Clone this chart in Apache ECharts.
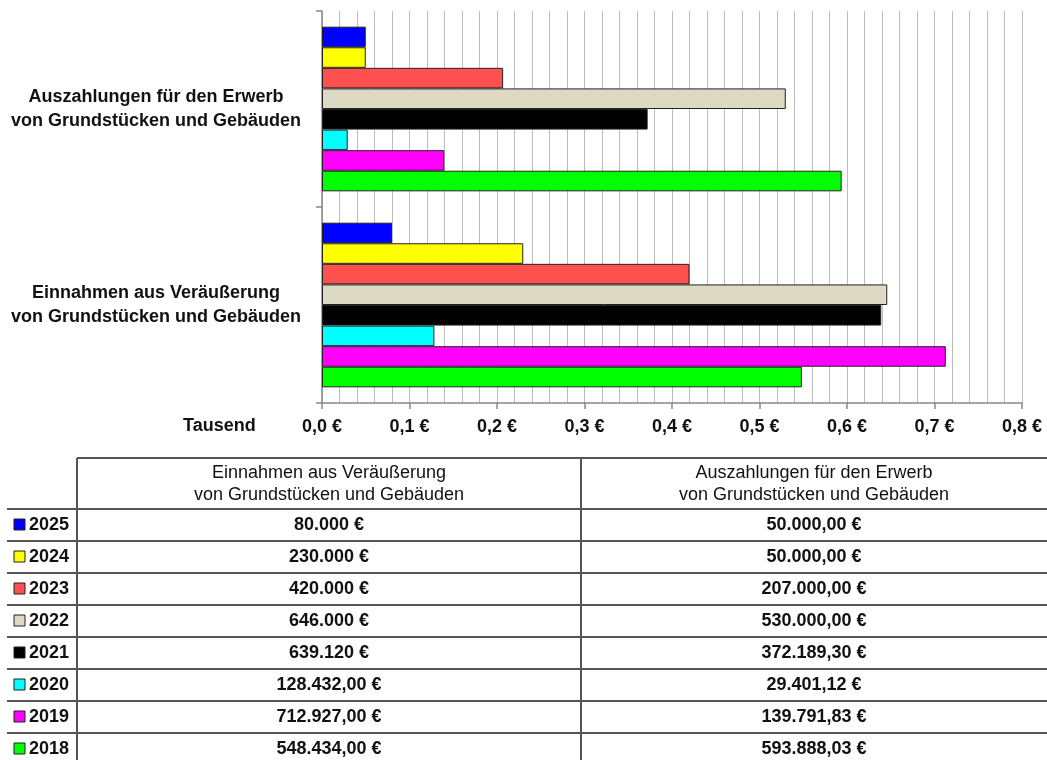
<!DOCTYPE html>
<html>
<head>
<meta charset="utf-8" />
<script src="https://cdn.jsdelivr.net/npm/echarts@6/dist/echarts.min.js"></script>
<style>
  html, body { margin: 0; padding: 0; background: #fff; }
  #chart { width: 1047px; height: 760px; }
</style>
</head>
<body>
<div id="chart"></div>
<script>
const FONT = "'Liberation Sans Narrow', 'Arial Narrow', 'Liberation Sans', Arial, sans-serif";

// categories (bottom to top on the y axis)
const categories = [
  'Einnahmen aus Veräußerung\nvon Grundstücken und Gebäuden',
  'Auszahlungen für den Erwerb\nvon Grundstücken und Gebäuden'
];

// years as they are listed in the table (top to bottom)
const years = ['2025', '2024', '2023', '2022', '2021', '2020', '2019', '2018'];
const colors = ['#0000ff', '#ffff00', '#ff5050', '#ddd9c3', '#000000', '#00ffff', '#ff00ff', '#00ff00'];

// values in euro, same order as years
const einnahmen = [80000, 230000, 420000, 646000, 639120, 128432.00, 712927.00, 548434.00];
const auszahlungen = [50000, 50000, 207000, 530000, 372189.30, 29401.12, 139791.83, 593888.03];

// table texts as printed
const einnahmenLabels = ['80.000 €', '230.000 €', '420.000 €', '646.000 €', '639.120 €', '128.432,00 €', '712.927,00 €', '548.434,00 €'];
const auszahlungenLabels = ['50.000,00 €', '50.000,00 €', '207.000,00 €', '530.000,00 €', '372.189,30 €', '29.401,12 €', '139.791,83 €', '593.888,03 €'];

const xTicks = ['0,0 €', '0,1 €', '0,2 €', '0,3 €', '0,4 €', '0,5 €', '0,6 €', '0,7 €', '0,8 €'];

const chart = echarts.init(document.getElementById('chart'), null, { renderer: 'canvas' });

// first series ends up on top of each band, so 2025 first
const series = years.map((y, i) => ({
  name: y,
  type: 'bar',
  data: [einnahmen[i] / 1e6, auszahlungen[i] / 1e6],
  barGap: '0%',
  barCategoryGap: '16%',
  itemStyle: { color: colors[i], borderColor: '#222', borderWidth: 1 },
  silent: true
}));

// data table under the chart
const tableTop = 458, headH = 51, rowH = 32;
const colLeft = 77, colMid = 581, colRight = 1047;
const lineStyle = { stroke: '#555', lineWidth: 2 };
const graphics = [];

graphics.push({ type: 'text', left: 183, top: 417, style: { text: 'Tausend', font: 'bold 18px ' + FONT, fill: '#111' } });

graphics.push({ type: 'line', shape: { x1: colLeft, y1: tableTop, x2: colRight, y2: tableTop }, style: lineStyle });
graphics.push({ type: 'line', shape: { x1: colLeft, y1: tableTop, x2: colLeft, y2: 760 }, style: lineStyle });
graphics.push({ type: 'line', shape: { x1: colMid, y1: tableTop, x2: colMid, y2: 760 }, style: lineStyle });

const headers = [categories[0], categories[1]];
[[colLeft, colMid], [colMid, colRight]].forEach(([a, b], k) => {
  graphics.push({
    type: 'text', x: (a + b) / 2, y: tableTop + headH / 2 + 1,
    style: { text: headers[k], font: '18px ' + FONT, fill: '#111', align: 'center', verticalAlign: 'middle', lineHeight: 22 }
  });
});

years.forEach((y, i) => {
  const top = tableTop + headH + i * rowH;
  const cy = top + rowH / 2;
  graphics.push({ type: 'line', shape: { x1: 7, y1: top, x2: colRight, y2: top }, style: lineStyle });
  graphics.push({ type: 'rect', shape: { x: 14, y: cy - 6, width: 11, height: 11 }, style: { fill: colors[i], stroke: '#222', lineWidth: 1 } });
  graphics.push({ type: 'text', x: 29, y: cy, style: { text: y, font: 'bold 18px ' + FONT, fill: '#111', verticalAlign: 'middle' } });
  graphics.push({ type: 'text', x: (colLeft + colMid) / 2, y: cy, style: { text: einnahmenLabels[i], font: 'bold 18px ' + FONT, fill: '#111', align: 'center', verticalAlign: 'middle' } });
  graphics.push({ type: 'text', x: (colMid + colRight) / 2, y: cy, style: { text: auszahlungenLabels[i], font: 'bold 18px ' + FONT, fill: '#111', align: 'center', verticalAlign: 'middle' } });
});
graphics.push({ type: 'line', shape: { x1: 7, y1: tableTop + headH + 8 * rowH, x2: colRight, y2: tableTop + headH + 8 * rowH }, style: lineStyle });

const option = {
  animation: false,
  grid: { left: 322, right: 25, top: 11, bottom: 357, containLabel: false },
  xAxis: {
    type: 'value',
    min: 0,
    max: 0.8,
    interval: 0.1,
    axisLine: { show: true, lineStyle: { color: '#888', width: 1.5 } },
    axisTick: { show: true, length: 6, lineStyle: { color: '#888', width: 1.5 } },
    axisLabel: {
      margin: 15,
      fontFamily: FONT, fontSize: 18, fontWeight: 'bold', color: '#111',
      formatter: (v) => xTicks[Math.round(v * 10)]
    },
    splitLine: { show: true, lineStyle: { color: '#bdbdbd', width: 1 } },
    minorTick: { show: false, splitNumber: 5 },
    minorSplitLine: { show: true, lineStyle: { color: '#bdbdbd', width: 1 } }
  },
  yAxis: {
    type: 'category',
    data: categories,
    axisLine: { show: true, lineStyle: { color: '#888', width: 1.5 } },
    axisTick: { show: true, length: 6, lineStyle: { color: '#888', width: 1.5 } },
    axisLabel: {
      margin: 166, align: 'center',
      fontFamily: FONT, fontSize: 18, fontWeight: 'bold', color: '#111', lineHeight: 24
    },
    splitLine: { show: false }
  },
  series: series,
  graphic: graphics
};

chart.setOption(option);
</script>
</body>
</html>
